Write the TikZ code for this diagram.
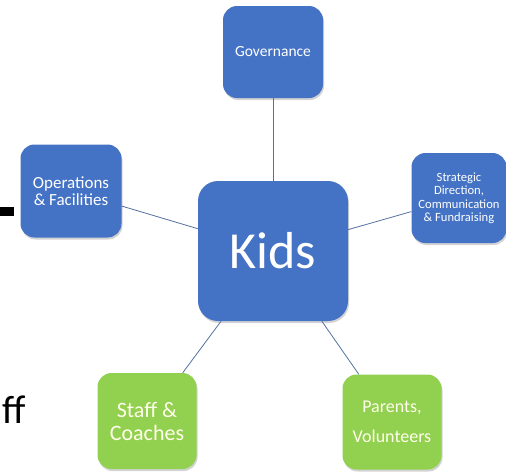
\documentclass[tikz,border=0pt]{standalone}
\usepackage{fontspec}
\setmainfont{Carlito}
\usetikzlibrary{shadows}
\definecolor{boxblue}{RGB}{68,114,196}
\definecolor{boxgreen}{RGB}{146,208,80}
\definecolor{linkblue}{RGB}{84,112,160}

\begin{document}
\begin{tikzpicture}[x=1pt,y=-1pt,
  box/.style={rectangle, rounded corners=14pt, text=white, align=center, inner sep=1pt,
    drop shadow={opacity=0.35, shadow xshift=1pt, shadow yshift=-2pt}},
  bluebox/.style={box, fill=boxblue},
  greenbox/.style={box, fill=boxgreen, text=white!92!yellow},
  link/.style={draw=linkblue, line width=0.8pt}]
\useasboundingbox (0,0) rectangle (506,475);
% cut-off pieces at the left edge
\fill (0,207) rectangle (14,216);
\node[anchor=base west, inner sep=0, font=\fontsize{40}{44}\selectfont] (ff) at (2,423) {ff};
% boxes
\node[bluebox, minimum width=150, minimum height=140, rounded corners=20pt,
  font=\fontsize{52}{56}\selectfont] (kids) at (273,251) {Kids};
\node[bluebox, minimum width=100, minimum height=92, font=\fontsize{15.5}{18}\selectfont] (gov) at (273,52) {Governance};
\node[bluebox, minimum width=101, minimum height=93, font=\fontsize{17}{17.5}\selectfont] (ops) at (71,191) {Operations\\\& Facilities};
\node[bluebox, minimum width=95, minimum height=90, font=\fontsize{12.6}{13.5}\selectfont] (strat) at (459,198) {Strategic\\Direction,\\Communication\\\& Fundraising};
\node[greenbox, minimum width=99, minimum height=96, font=\fontsize{22}{23}\selectfont] (staff) at (147,421) {Staff \&\\Coaches};
\node[greenbox, minimum width=99, minimum height=95, font=\fontsize{18}{30}\selectfont] (parents) at (392,422) {Parents,\\Volunteers};
% connectors
\draw[link] (gov) -- (kids);
\draw[link] (ops) -- (kids);
\draw[link] (strat) -- (kids);
\draw[link] (staff) -- (kids);
\draw[link] (parents) -- (kids);
\end{tikzpicture}
\end{document}
